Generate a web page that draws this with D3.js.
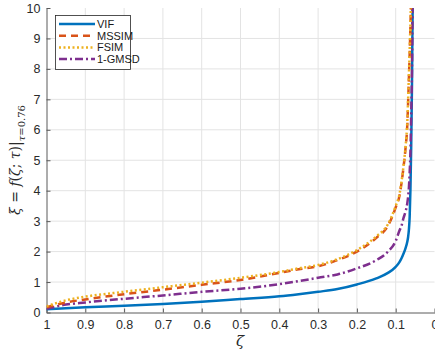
<!DOCTYPE html>
<html><head><meta charset="utf-8">
<script src="https://cdn.jsdelivr.net/npm/d3@7"></script>
<style>body{margin:0;background:#fff}svg{display:block}</style>
</head><body><svg id="c" width="435" height="357"></svg>
<script>
const zeta = [1,0.95,0.9,0.8,0.7,0.6,0.5,0.4,0.35,0.3,0.25,0.2,0.15,0.12,0.1,0.09,0.085,0.08,0.075,0.07,0.068,0.066,0.064,0.062,0.06,0.058,0.056,0.055];
const vif   = [0.11,0.14,0.17,0.22,0.28,0.35,0.44,0.53,0.6,0.68,0.77,0.92,1.12,1.3,1.5,1.66,1.78,1.93,2.1,2.33,2.48,2.72,3.15,4.05,5.5,7.5,10.5,11];
const mssim = [0.17,0.33,0.43,0.6,0.75,0.91,1.07,1.3,1.42,1.52,1.72,2.0,2.45,2.85,3.45,3.85,4.25,4.75,5.35,6.2,6.9,7.7,8.5,9.4,10.4,11,11,11];
const fsim  = [0.2,0.4,0.52,0.68,0.83,0.98,1.14,1.33,1.45,1.56,1.75,2.05,2.5,2.9,3.5,3.9,4.3,4.8,5.4,6.3,7.0,7.8,8.6,9.5,10.5,11,11,11];
const gmsd  = [0.12,0.26,0.33,0.45,0.56,0.68,0.78,0.93,1.03,1.14,1.25,1.45,1.72,2.0,2.35,2.7,2.85,3.1,3.3,3.6,3.8,4.1,4.6,5.3,6.5,8.0,10.5,11];
const seriesNames = ["VIF","MSSIM","FSIM","1-GMSD"];
const xTicks = [1,0.9,0.8,0.7,0.6,0.5,0.4,0.3,0.2,0.1,0];
const yTicks = [0,1,2,3,4,5,6,7,8,9,10];

const series = [
  {name:seriesNames[0], vals:vif,   color:"#0072BD", dash:null,      w:2.5},
  {name:seriesNames[1], vals:mssim, color:"#D95319", dash:"7,5",     w:2.5},
  {name:seriesNames[2], vals:fsim,  color:"#EDB120", dash:"2,2.5",   w:2.5},
  {name:seriesNames[3], vals:gmsd,  color:"#7E2F8E", dash:"8,3,2,3", w:2.5}
];

const svg = d3.select("#c");
const L=46.5, R=434.5, T=8, B=312.5;
const x = d3.scaleLinear().domain([1,0]).range([L,R]);
const y = d3.scaleLinear().domain([0,10]).range([B,T]);

// grid
const g = svg.append("g");
g.selectAll(".gx").data(xTicks.filter(d=>d!==1&&d!==0)).join("line")
  .attr("x1",d=>x(d)).attr("x2",d=>x(d)).attr("y1",T).attr("y2",B)
  .attr("stroke","#e3e3e3").attr("stroke-width",1);
g.selectAll(".gy").data(yTicks.filter(d=>d!==0&&d!==10)).join("line")
  .attr("x1",L).attr("x2",R).attr("y1",d=>y(d)).attr("y2",d=>y(d))
  .attr("stroke","#e3e3e3").attr("stroke-width",1);

// axes
const xa = svg.append("g").attr("transform",`translate(0,${B})`)
  .call(d3.axisBottom(x).tickValues(xTicks).tickFormat(d3.format("")).tickSizeInner(-4).tickSizeOuter(0).tickPadding(8));
const ya = svg.append("g").attr("transform",`translate(${L},0)`)
  .call(d3.axisLeft(y).tickValues(yTicks).tickFormat(d3.format("d")).tickSizeInner(-4).tickSizeOuter(0).tickPadding(6));
[xa,ya].forEach(a=>{
  a.select(".domain").attr("stroke","#5a5a5a").attr("stroke-width",1);
  a.selectAll(".tick line").attr("stroke","#5a5a5a");
  a.selectAll("text").attr("fill","#2a2a2a").style("font-family","Liberation Sans, Arial, sans-serif").style("font-size","12.5px");
});

// clip
svg.append("clipPath").attr("id","clp").append("rect").attr("x",L).attr("y",T).attr("width",R-L+5).attr("height",B-T);

const line = d3.line().x((d,i)=>x(zeta[i])).y(d=>y(d)).curve(d3.curveMonotoneX);
const lines = svg.append("g").attr("clip-path","url(#clp)");
[series[0],series[3],series[1],series[2]].forEach(s=>{
  lines.append("path").attr("d",line(s.vals)).attr("fill","none")
    .attr("stroke",s.color).attr("stroke-width",s.w)
    .attr("stroke-dasharray",s.dash);
});

// legend
const lg = svg.append("g");
lg.append("rect").attr("x",55.5).attr("y",15.5).attr("width",75).attr("height",54)
  .attr("fill","#fff").attr("stroke","#262626").attr("stroke-width",0.8);
series.forEach((s,i)=>{
  const yy = 24 + i*11.7;
  lg.append("line").attr("x1",59).attr("x2",95).attr("y1",yy).attr("y2",yy)
    .attr("stroke",s.color).attr("stroke-width",2.5).attr("stroke-dasharray",s.dash);
  lg.append("text").attr("x",97).attr("y",yy+4).text(s.name)
    .attr("fill","#1a1a1a").style("font-family","Liberation Sans, Arial, sans-serif").style("font-size","11px");
});

// axis labels
svg.append("text").attr("x",240).attr("y",346).attr("text-anchor","middle")
  .style("font-family","DejaVu Serif, serif").style("font-style","italic").style("font-size","15px")
  .attr("fill","#2a2a2a").text("ζ");
const yl = svg.append("text").attr("transform","translate(20,160) rotate(-90)").attr("text-anchor","middle")
  .style("font-family","DejaVu Serif, serif").style("font-size","14px").attr("fill","#2a2a2a");
yl.append("tspan").style("font-style","italic").text("ξ");
yl.append("tspan").text(" = ");
yl.append("tspan").style("font-style","italic").text("f");
yl.append("tspan").text("(");
yl.append("tspan").style("font-style","italic").text("ζ");
yl.append("tspan").text("; ");
yl.append("tspan").style("font-style","italic").text("τ");
yl.append("tspan").text(")|");
yl.append("tspan").attr("dy",5).style("font-size","10px").style("font-style","italic").text("τ");
yl.append("tspan").style("font-size","10px").text("=0.76");
</script></body></html>
